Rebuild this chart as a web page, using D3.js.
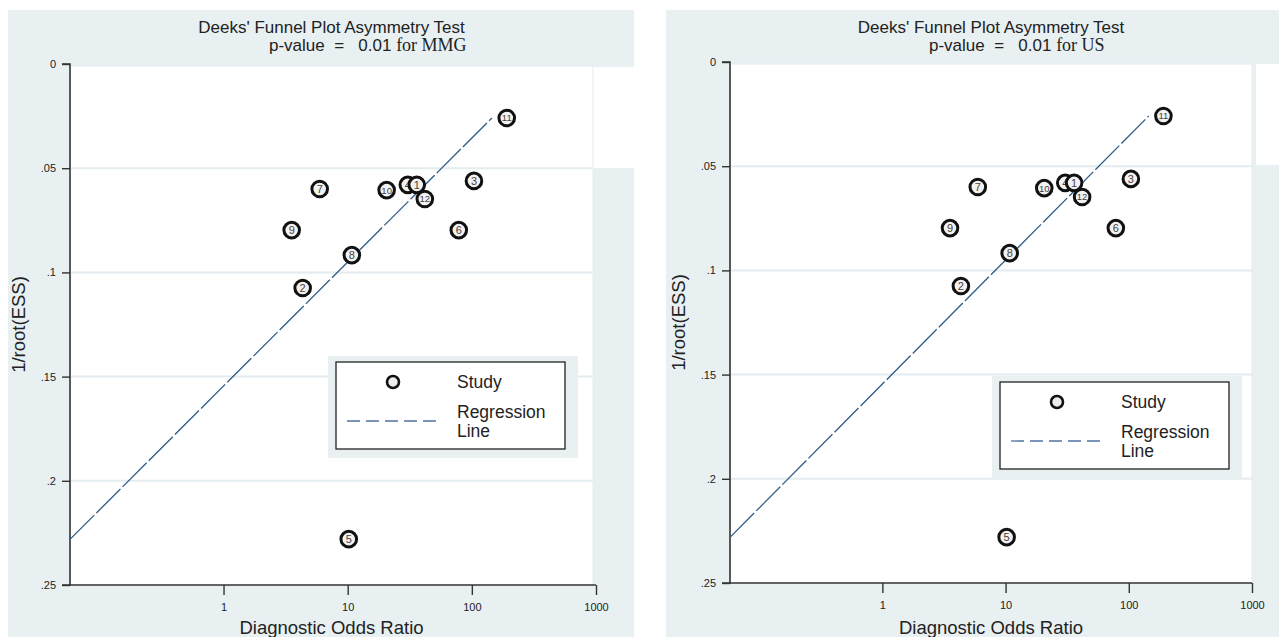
<!DOCTYPE html>
<html>
<head>
<meta charset="utf-8">
<script src="https://cdn.jsdelivr.net/npm/d3@7"></script>
<style>
  html, body { margin: 0; padding: 0; background: #fff; }
  svg { display: block; }
  text { font-family: "Liberation Sans", Arial, sans-serif; }
</style>
</head>
<body>
<svg id="chart" width="1279" height="637"></svg>
<script>
// Study labels, diagnostic odds ratios and 1/sqrt(effective sample size)
const studies    = ["1", "2", "3", "4", "5", "6", "7", "8", "9", "10", "11", "12"];
const dor        = [36, 4.34, 104, 30.5, 10.2, 78.5, 5.95, 10.8, 3.54, 20.6, 191, 41.8];
const invRootEss = [0.058, 0.1075, 0.0561, 0.058, 0.228, 0.0797, 0.060, 0.0917, 0.0797, 0.0605, 0.0259, 0.0648];

// Regression of ln(DOR) on 1/root(ESS): ln(DOR) = a + b * y
const regIntercept = 5.98;
const regSlope = -38.7;

// Axis ticks
const xTicks = [1, 10, 100, 1000];
const xTickLabels = ["1", "10", "100", "1000"];
const yTicks = [0, 0.05, 0.1, 0.15, 0.2, 0.25];
const yTickLabels = ["0", ".05", ".1", ".15", ".2", ".25"];

// Panel titles
const panelModality = ["MMG", "US"];
const pValues = ["0.01", "0.01"];

const svg = d3.select("#chart");
const BG = "#e8f0f2";

const layouts = [
  { bgX: 8,   bgW: 626, left: 70,  right: 596, plotRight: 593, top: 64, bottom: 585,
    stripX: 593, stripW: 41, stripY0: 67, stripY1: 168,
    legend: { x: 336, y: 362, w: 229, h: 87 } },
  { bgX: 666, bgW: 613, left: 730, right: 1252, plotRight: 1252, top: 62, bottom: 583,
    stripX: 1256, stripW: 23, stripY0: 64, stripY1: 165,
    legend: { x: 1000, y: 382, w: 229, h: 87 } }
];

layouts.forEach((L, i) => {
  const g = svg.append("g");

  // panel background
  g.append("rect").attr("x", L.bgX).attr("y", 10).attr("width", L.bgW).attr("height", 627).attr("fill", BG);
  g.append("rect").attr("x", L.stripX).attr("y", L.stripY0).attr("width", L.stripW)
    .attr("height", L.stripY1 - L.stripY0).attr("fill", "#fff");

  const x = d3.scaleLog().domain([0.058, 1000]).range([L.left, L.right]);
  const y = d3.scaleLinear().domain([0, 0.25]).range([L.top, L.bottom]);

  // plot region
  g.append("rect").attr("x", L.left).attr("y", L.top + 2)
    .attr("width", L.plotRight - L.left).attr("height", L.bottom - L.top - 2)
    .attr("fill", "#fff").attr("stroke", "#e3ecef").attr("stroke-width", 1);

  // horizontal grid
  g.selectAll(".grid").data(yTicks.filter(v => v > 0 && v < 0.25)).enter().append("line")
    .attr("x1", L.left).attr("x2", L.plotRight)
    .attr("y1", d => y(d)).attr("y2", d => y(d))
    .attr("stroke", "#e3ecef").attr("stroke-width", 2);

  // y axis
  const yAxis = d3.axisLeft(y).tickValues(yTicks)
    .tickFormat((d, k) => yTickLabels[k]).tickSize(8).tickPadding(6);
  const ya = g.append("g").attr("transform", `translate(${L.left},0)`).call(yAxis);
  ya.select(".domain").attr("stroke", "#333").attr("stroke-width", 1.6).attr("d", `M-8,${L.top}H0V${L.bottom}H-8`);
  ya.selectAll(".tick line").attr("stroke", "#333").attr("stroke-width", 1.4);
  ya.selectAll(".tick text").attr("font-size", 11).attr("fill", "#222")
    .attr("font-family", "Liberation Sans, Arial, sans-serif");

  // x axis
  const xAxis = d3.axisBottom(x).tickValues(xTicks)
    .tickFormat((d, k) => xTickLabels[k]).tickSize(10).tickPadding(8);
  const xa = g.append("g").attr("transform", `translate(0,${L.bottom})`).call(xAxis);
  xa.select(".domain").attr("stroke", "#333").attr("stroke-width", 1.6).attr("d", `M${L.left},0H${L.right}`);
  xa.selectAll(".tick line").attr("stroke", "#333").attr("stroke-width", 1.4);
  xa.selectAll(".tick text").attr("font-size", 11).attr("fill", "#222")
    .attr("font-family", "Liberation Sans, Arial, sans-serif");

  // axis titles
  const midX = (L.left + L.plotRight) / 2;
  g.append("text").attr("x", midX).attr("y", 634).attr("text-anchor", "middle")
    .attr("font-size", 18.5).attr("fill", "#222").text("Diagnostic Odds Ratio");
  g.append("text").attr("transform", `translate(${L.left - 45},${(L.top + L.bottom) / 2}) rotate(-90)`)
    .attr("text-anchor", "middle").attr("font-size", 18.5).attr("fill", "#222").text("1/root(ESS)");

  // title
  g.append("text").attr("x", midX).attr("y", 33).attr("text-anchor", "middle")
    .attr("font-size", 17).attr("fill", "#222").text("Deeks' Funnel Plot Asymmetry Test");
  const t2 = g.append("text").attr("x", L.left + 199).attr("y", 51).attr("font-size", 17).attr("fill", "#222");
  t2.append("tspan").attr("xml:space", "preserve").text("p-value  =   " + pValues[i] + " ");
  t2.append("tspan").attr("font-family", "Liberation Serif, Times New Roman, serif").attr("font-size", 18)
    .text("for " + panelModality[i]);

  // regression line over the range of 1/root(ESS)
  const yExt = d3.extent(invRootEss);
  const regPts = [yExt[1], yExt[0]].map(v => [Math.exp(regIntercept + regSlope * v), v]);
  g.append("path")
    .attr("d", d3.line().x(d => x(d[0])).y(d => y(d[1]))(regPts))
    .attr("fill", "none").attr("stroke", "#2f5b86").attr("stroke-width", 1.3)
    .attr("stroke-dasharray", "34,3");

  // study markers, drawn in order of increasing DOR
  const pts = studies.map((s, k) => ({ s, x: dor[k], y: invRootEss[k] }))
    .sort((a, b) => a.x - b.x);
  const m = g.selectAll(".study").data(pts).enter().append("g")
    .attr("transform", d => `translate(${x(d.x)},${y(d.y)})`);
  m.append("circle").attr("r", 7.8).attr("fill", "#f2f2f2").attr("stroke", "#111").attr("stroke-width", 3);
  m.append("text").attr("text-anchor", "middle").attr("dy", "0.36em")
    .attr("font-size", d => d.s.length > 1 ? 9.5 : 11).attr("fill", "#4a4038").text(d => d.s);

  // legend
  const lg = L.legend;
  g.append("rect").attr("x", lg.x - 8).attr("y", lg.y - 6).attr("width", lg.w + 21).attr("height", lg.h + 15).attr("fill", BG);
  g.append("rect").attr("x", lg.x).attr("y", lg.y).attr("width", lg.w).attr("height", lg.h)
    .attr("fill", "#fff").attr("stroke", "#222").attr("stroke-width", 1.3);
  g.append("circle").attr("cx", lg.x + 57).attr("cy", lg.y + 20).attr("r", 6)
    .attr("fill", "#ececec").attr("stroke", "#111").attr("stroke-width", 2.6);
  g.append("text").attr("x", lg.x + 121).attr("y", lg.y + 26).attr("font-size", 17.5).attr("fill", "#222").text("Study");
  g.append("line").attr("x1", lg.x + 11).attr("x2", lg.x + 106).attr("y1", lg.y + 59).attr("y2", lg.y + 59)
    .attr("stroke", "#4d73a0").attr("stroke-width", 1.3).attr("stroke-dasharray", "13,6");
  g.append("text").attr("x", lg.x + 121).attr("y", lg.y + 56).attr("font-size", 17.5).attr("fill", "#222").text("Regression");
  g.append("text").attr("x", lg.x + 121).attr("y", lg.y + 75).attr("font-size", 17.5).attr("fill", "#222").text("Line");
});

// gap between the two panels
svg.append("rect").attr("x", 634).attr("y", 0).attr("width", 32).attr("height", 637).attr("fill", "#fff");
</script>
</body>
</html>
